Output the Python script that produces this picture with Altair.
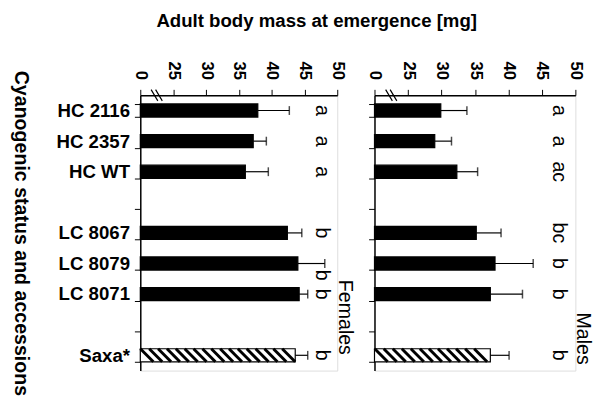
import altair as alt
import pandas as pd
import numpy as np

# Band categories (two blank spacer slots)
categories = ["HC 2116", "HC 2357", "HC WT", " ", "LC 8067", "LC 8079", "LC 8071", "  ", "Saxa*"]
accessions = ["HC 2116", "HC 2357", "HC WT", "LC 8067", "LC 8079", "LC 8071", "Saxa*"]
kinds = ["solid", "solid", "solid", "solid", "solid", "solid", "hatched"]

female_mean = [37.9, 37.2, 36.0, 42.4, 44.0, 44.2, 43.6]
female_upper = [42.7, 39.2, 39.5, 44.6, 48.1, 45.5, 45.5]
female_letters = ["a", "a", "a", "b", "b", "b", "b"]

male_mean = [29.9, 29.0, 32.3, 35.2, 38.0, 37.3, 37.3]
male_upper = [33.8, 31.5, 35.4, 38.9, 43.7, 42.1, 40.1]
male_letters = ["a", "a", "ac", "bc", "b", "b", "b"]

tick_values = [20, 25, 30, 35, 40, 45, 50]   # 20 is shown as the broken-axis "0"
AXIS_START = 20
LETTER_POS = 47.6
BREAK_POS = 22.5

FONT = "Liberation Sans"
H = 281


def panel(mean, upper, letters, label, first, width, label_y):
    df = pd.DataFrame({"acc": accessions, "mean": mean, "upper": upper,
                       "letter": letters, "kind": kinds,
                       "start": [AXIS_START] * len(accessions),
                       "lpos": [LETTER_POS] * len(accessions)})
    hatch_rows = []
    for a, m, k in zip(accessions, mean, kinds):
        if k == "hatched":
            for hx in np.arange(AXIS_START + 1.0, m - 0.9, 1.35):
                hatch_rows.append({"acc": a, "hx": float(hx)})
    hdf = pd.DataFrame(hatch_rows)
    bdf = pd.DataFrame({"bx": [BREAK_POS]})

    xscale = alt.Scale(domain=[20, 50], zero=False, nice=False)
    yscale = alt.Scale(domain=categories, paddingInner=0.57, paddingOuter=0.285)
    xaxis = alt.Axis(orient="top", values=tick_values, tickCount=7,
                     labelExpr="datum.value == 20 ? '0' : datum.label",
                     labelAngle=90, labelAlign="right", labelBaseline="middle",
                     labelFontSize=17, labelFontWeight="bold", labelFont=FONT,
                     labelColor="black", labelOverlap=False,
                     tickSize=6, tickColor="black", tickWidth=1,
                     labelPadding=10, domainColor="black", domainWidth=1.5,
                     grid=False, title=None)
    if first:
        yaxis = alt.Axis(tickBand="extent", labelFontSize=19, labelFontWeight="bold",
                         labelFont=FONT, labelColor="black", tickSize=6,
                         tickColor="black", labelPadding=5, domainColor="black",
                         domainWidth=1.5, grid=False, labelOverlap=False,
                         title="Cyanogenic status and accessions", titleAngle=90,
                         titleFont=FONT, titleFontSize=20, titleFontWeight="bold",
                         titleColor="black", titlePadding=46)
    else:
        yaxis = alt.Axis(tickBand="extent", labels=False, tickSize=6,
                         tickColor="black", domainColor="black", domainWidth=1.5,
                         grid=False, title=None)

    def X(field):
        return alt.X(field, type="quantitative", scale=xscale, axis=xaxis)

    def Y():
        return alt.Y("acc", type="nominal", scale=yscale, axis=yaxis)

    base = alt.Chart(df)
    bars = base.mark_bar(stroke="black", strokeWidth=1.2).encode(
        x=X("mean"), x2="start:Q", y=Y(),
        fill=alt.Fill("kind:N", scale=alt.Scale(domain=["solid", "hatched"],
                                                 range=["black", "white"]), legend=None),
    )
    hatch = alt.Chart(hdf).mark_point(shape="M-1,-1L1,1", size=175, strokeWidth=3,
                                      color="black", opacity=1, filled=False).encode(
        x=X("hx"), y=Y())
    err = base.mark_rule(color="black", strokeWidth=1.2).encode(
        x=X("mean"), x2="upper:Q", y=Y())
    cap = base.mark_tick(color="black", size=9, thickness=1.5).encode(
        x=X("upper"), y=Y())
    # letters: nudged down (dx acts downward once rotated) where the error bar
    # reaches the letter column
    letter = base.transform_filter(f"datum.upper < {LETTER_POS - 1}").mark_text(
        angle=90, fontSize=20, font=FONT, color="black",
        align="center", baseline="middle").encode(
        x=X("lpos"), y=Y(), text="letter:N")
    letter2 = base.transform_filter(f"datum.upper >= {LETTER_POS - 1}").mark_text(
        angle=90, fontSize=20, font=FONT, color="black", dx=12,
        align="center", baseline="middle").encode(
        x=X("lpos"), y=Y(), text="letter:N")
    brk = alt.Chart(bdf).mark_point(shape="M-1,-1L0.2,1M-0.2,-1L1,1", size=130,
                                    strokeWidth=1.2, color="black", opacity=1,
                                    filled=False).encode(
        x=X("bx"), y=alt.value(0))
    lab = alt.Chart(bdf).mark_text(angle=90, fontSize=20, font=FONT, color="black",
                                   align="right", baseline="alphabetic",
                                   text=label).encode(
        x=alt.value(width + 2), y=alt.value(label_y))
    return alt.layer(bars, hatch, err, cap, letter, letter2, brk, lab).properties(
        width=width, height=H)


females = panel(female_mean, female_upper, female_letters, "Females", True, 201, H - 16)
males = panel(male_mean, male_upper, male_letters, "Males", False, 205, H - 6)

chart = alt.hconcat(females, males, spacing=10).properties(
    title=alt.TitleParams("Adult body mass at emergence [mg]", fontSize=19,
                          fontWeight="bold", font=FONT, color="black",
                          anchor="middle", offset=30, dx=15),
    padding={"left": 2, "top": 0, "right": 0, "bottom": 0},
).configure_view(stroke="#777", strokeWidth=1, strokeDash=[1, 1]
).configure(background="white")

chart.save("out.html", embed_options={"renderer": "svg", "actions": False})
